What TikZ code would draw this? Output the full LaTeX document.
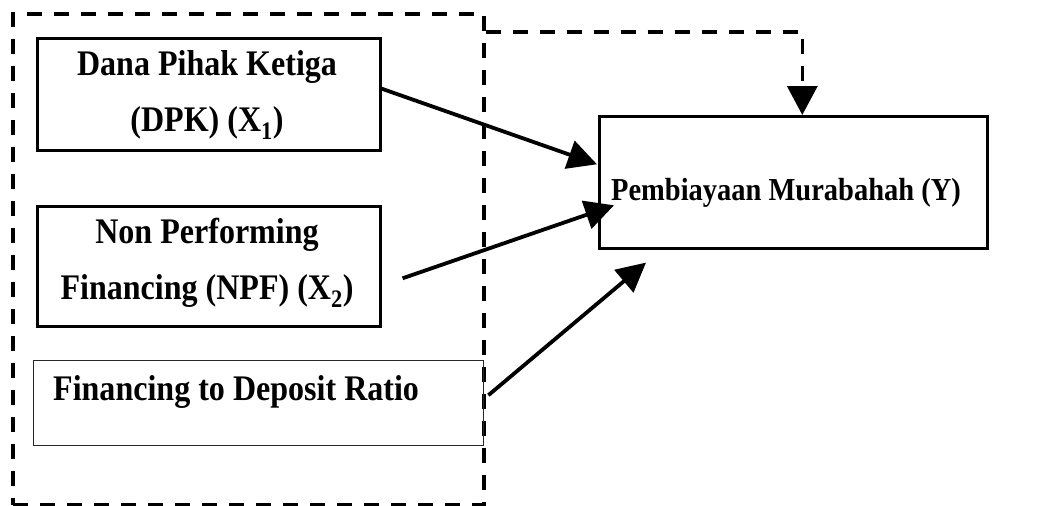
\documentclass[tikz,border=0pt]{standalone}
\usepackage{fontspec}
\newfontfamily\tnr[FakeStretch=0.89]{Liberation Serif}
\usetikzlibrary{arrows.meta,calc}
\begin{document}
\begin{tikzpicture}[x=1pt,y=-1pt,
  box/.style={draw, line width=2.6pt, rectangle, inner sep=0pt, anchor=north west},
  thinbox/.style={draw=black!85, line width=1.4pt, rectangle, inner sep=0pt, anchor=north west},
  grpbox/.style={draw, line width=3.5pt, dash pattern=on 15pt off 12pt, rectangle, inner sep=0pt, anchor=north west},
  lbl/.style={font=\tnr\bfseries\fontsize{36}{56}\selectfont, align=center, inner sep=0pt},
  ylbl/.style={font=\tnr\bfseries\fontsize{32}{40}\selectfont, inner sep=0pt},
  conn/.style={line width=3.8pt, -{Triangle[length=29pt,width=29pt]}},
  dconn/.style={line width=3.5pt, dash pattern=on 15pt off 12pt, -{Triangle[length=29pt,width=30pt]}}
]
\useasboundingbox[fill=white] (0,0) rectangle (1055,506);
% outer dashed group
\node[grpbox, minimum width=471pt, minimum height=491pt] (grp) at (11,12) {};
% independent variable boxes
\node[box, minimum width=343pt, minimum height=112pt] (dpk) at (36,37) {};
\node[lbl] (dpkt) at (207,95) {Dana Pihak Ketiga\\(DPK) (X\textsubscript{1})};
\node[box, minimum width=343pt, minimum height=120pt] (npf) at (36,205) {};
\node[lbl] (npft) at (207,263) {Non Performing\\Financing (NPF) (X\textsubscript{2})};
\node[thinbox, minimum width=450pt, minimum height=85pt] (fdr) at (33,360) {};
\node[lbl, anchor=base west] (fdrt) at (53,400) {Financing to Deposit Ratio};
% dependent variable
\node[box, minimum width=388pt, minimum height=132pt] (Y) at (598,115) {};
\node[ylbl, anchor=base] (Yt) at (786,200) {Pembiayaan Murabahah (Y)};
% connectors
\draw[conn] ($(dpk.east)+(-1,-6)$) -- ($(Y.west)+(-1,-18)$);
\draw[conn] ($(npf.east)+(21,12)$) -- ($(Y.west)+(16,23)$);
\draw[conn] ($(fdr.east)+(4,-8)$) -- ($(Y.south west)+(48,13)$);
\draw[dconn] ($(grp.north east)+(0,20)$) -| ($(Y.north)+(9,0)$);
\end{tikzpicture}
\end{document}
